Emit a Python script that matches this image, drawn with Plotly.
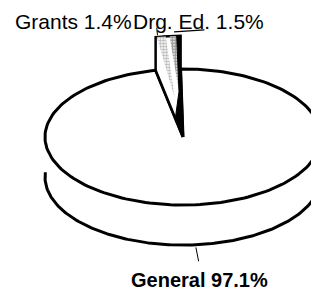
import numpy as np
import plotly.graph_objects as go

# ---- data ----
labels = ["General", "Grants", "Drg. Ed."]
values = [97.1, 1.4, 1.5]
draw_order = ["Drg. Ed.", "Grants", "General"]   # counter-clockwise from start angle

# ---- layout / styling constants ----
W, H = 311, 293
PX = 138.0            # pixels per unit radius
CX, CY = 183, 137     # pie centre in pixels
RY = 0.493            # vertical squash of the tilted pie
DEPTH = 0.29          # pie thickness
LIFT = 0.24           # how far the small slices are raised
START = 91.0          # start angle (deg)
LW = 3
FONT = "Liberation Sans, Arial, sans-serif"


def ell(a_deg, dy=0.0):
    a = np.radians(a_deg)
    return float(np.cos(a)), float(RY * np.sin(a) + dy)


def arc(a0, a1, dy=0.0, n=200):
    ang = np.radians(np.linspace(a0, a1, n))
    return list(np.cos(ang)), list(RY * np.sin(ang) + dy)


def lerp(p, q, t):
    return (p[0] + (q[0] - p[0]) * t, p[1] + (q[1] - p[1]) * t)


def p2d(X, Y):
    return (X - CX) / PX, (CY - Y) / PX


def poly(pts, **kw):
    xs = [p[0] for p in pts] + [pts[0][0]]
    ys = [p[1] for p in pts] + [pts[0][1]]
    return go.Scatter(x=xs, y=ys, mode="lines", fill="toself", hoverinfo="skip", **kw)


# slice angles
total = sum(values)
spans = {}
a = START
for lab in draw_order:
    v = values[labels.index(lab)]
    spans[lab] = (a, a + 360.0 * v / total)
    a += 360.0 * v / total

fig = go.Figure()
C = (0.0, 0.0)

# General slice (top face)
g0, g1 = spans["General"]
x, y = arc(g0, g1)
fig.add_trace(go.Scatter(x=[0] + x + [0], y=[0] + y + [0], mode="lines",
                         fill="toself", fillcolor="white",
                         line=dict(color="black", width=LW), hoverinfo="skip"))

# lower rim (front edge of the pie's thickness)
x, y = arc(176, 358, dy=-DEPTH)
fig.add_trace(go.Scatter(x=x, y=y, mode="lines",
                         line=dict(color="black", width=LW), hoverinfo="skip"))

# raised small slices: outline block
lo = spans["Drg. Ed."][0]
hi = spans["Grants"][1]
xr, yr = arc(lo, hi, dy=LIFT, n=40)
E_lo, E_hi = ell(lo), ell(hi)
block = [C, E_lo, ell(lo, LIFT)] + list(zip(xr, yr)) + [ell(hi, LIFT), E_hi]
fig.add_trace(poly(block, fillcolor="white", line=dict(color="black", width=2.5)))

# Grants stipple (light)
gs0, gs1 = spans["Grants"]
sg = gs1 - gs0
apex_g = lerp(ell((gs0 + gs1) / 2, LIFT), C, 0.62)
pts = list(zip(*arc(gs0 + 0.15 * sg, gs1 - 0.1 * sg, dy=LIFT, n=10))) + [apex_g]
fig.add_trace(poly(pts, fillcolor="white", line=dict(width=0),
                   fillpattern=dict(shape=".", fgcolor="#777777", bgcolor="white",
                                    size=3, solidity=0.6)))

# Drg. Ed. stipple (darker)
ds0, ds1 = spans["Drg. Ed."]
sd = ds1 - ds0
apex_d = lerp(ell((ds0 + ds1) / 2, LIFT), C, 0.55)
pts = list(zip(*arc(ds0 + 0.3 * sd, ds1 - 0.15 * sd, dy=LIFT, n=10))) + [apex_d]
fig.add_trace(poly(pts, fillcolor="white", line=dict(width=0),
                   fillpattern=dict(shape=".", fgcolor="#333333", bgcolor="white",
                                    size=3, solidity=0.75)))

# shaded side wall of the raised slices
Q = lerp(C, E_hi, 0.28)
pts = [C, E_lo, ell(lo, LIFT), ell(lo + 0.3 * sd, LIFT), apex_d, Q]
fig.add_trace(poly(pts, fillcolor="black", line=dict(color="black", width=1)))

# leader lines
def mid(lab):
    s0, s1 = spans[lab]
    return (s0 + s1) / 2

xm, ym = ell(mid("Grants"), LIFT)
fig.add_trace(go.Scatter(x=[xm - 0.03, xm - 0.035], y=[ym + 0.01, ym + 0.065], mode="lines",
                         line=dict(color="black", width=1), hoverinfo="skip"))
xm, ym = ell(mid("Drg. Ed."), LIFT)
fig.add_trace(go.Scatter(x=[xm, xm + 0.22], y=[ym + 0.03, ym + 0.045], mode="lines",
                         line=dict(color="black", width=1.3), hoverinfo="skip"))
xm, ym = ell(mid("General"), -DEPTH)
fig.add_trace(go.Scatter(x=[xm - 0.015, xm + 0.005], y=[ym - 0.02, ym - 0.12], mode="lines",
                         line=dict(color="black", width=1), hoverinfo="skip"))


def lab_text(lab):
    v = values[labels.index(lab)]
    return f"{lab} {v}%"


annots = []
ax, ay = p2d(134, 21)
annots.append(dict(x=ax, y=ay, text=lab_text("Grants"), xanchor="right", yanchor="middle",
                   showarrow=False, font=dict(family=FONT, size=21, color="black")))
ax, ay = p2d(131, 21)
annots.append(dict(x=ax, y=ay, text=lab_text("Drg. Ed."), xanchor="left", yanchor="middle",
                   showarrow=False, font=dict(family=FONT, size=21, color="black")))
ax, ay = p2d(199, 280)
annots.append(dict(x=ax, y=ay, text="<b>" + lab_text("General") + "</b>", xanchor="center",
                   yanchor="middle", showarrow=False,
                   font=dict(family=FONT, size=20, color="black")))

fig.update_layout(
    width=W, height=H, margin=dict(l=0, r=0, t=0, b=0),
    paper_bgcolor="white", plot_bgcolor="white", showlegend=False,
    xaxis=dict(range=[-CX / PX, (W - CX) / PX], visible=False, fixedrange=True),
    yaxis=dict(range=[-(H - CY) / PX, CY / PX], visible=False, fixedrange=True),
    annotations=annots,
)

fig.write_html("out.html", config={"displayModeBar": False},
               post_script="document.body.style.margin='0';document.body.style.overflow='hidden';")
